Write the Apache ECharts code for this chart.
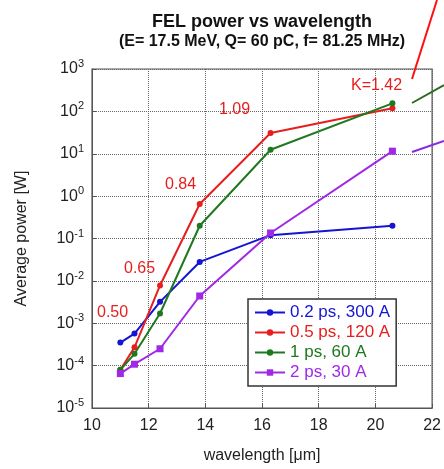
<!DOCTYPE html>
<html>
<head>
<meta charset="utf-8">
<script src="https://cdn.jsdelivr.net/npm/echarts@6/dist/echarts.min.js"></script>
<style>
html,body{margin:0;padding:0;background:#fff;}
#chart{width:444px;height:469px;}
</style>
</head>
<body>
<div id="chart"></div>
<script>
var wavelength = [11.0, 11.5, 12.4, 13.8, 16.3, 20.6];
var p02ps = [3.5e-4, 5.7e-4, 3.2e-3, 0.028, 0.12, 0.2];
var p05ps = [8e-5, 2.7e-4, 7.8e-3, 0.65, 31, 118];
var p1ps = [8e-5, 1.9e-4, 1.7e-3, 0.2, 12.4, 155];
var p2ps = [6.5e-5, 1.08e-4, 2.5e-4, 4.4e-3, 0.135, 11.5];
var seriesNames = ['0.2 ps, 300 A', '0.5 ps, 120 A', '1 ps, 60 A', '2 ps, 30 A'];
var colors = ['#1414d2', '#e61e1e', '#1e781e', '#a028e6'];
var kLabels = ['0.50', '0.65', '0.84', '1.09', 'K=1.42'];

var chart = echarts.init(document.getElementById('chart'));

function pairs(ys){
    var out = [];
    for (var i = 0; i < ys.length; i++) out.push([wavelength[i], ys[i]]);
    return out;
}

function mkSeries(idx, ys, sym){
    return {
        name: seriesNames[idx],
        type: 'line',
        data: pairs(ys),
        symbol: sym,
        symbolSize: sym == 'rect' ? 7 : 6,
        color: colors[idx],
        lineStyle: {width: 2},
        z: 3
    };
}

var font = 'Liberation Sans, Arial, sans-serif';

var option = {
    animation: false,
    textStyle: {fontFamily: font},
    title: {
        text: 'FEL power vs wavelength',
        subtext: '(E= 17.5 MeV, Q= 60 pC, f= 81.25 MHz)',
        left: 257,
        textAlign: 'center',
        top: 8,
        itemGap: 3,
        textStyle: {fontSize: 18, fontWeight: 'bold', color: '#111', fontFamily: font},
        subtextStyle: {fontSize: 16, fontWeight: 'bold', color: '#111', fontFamily: font}
    },
    grid: {
        left: 92, right: 11, top: 69, bottom: 60,
        show: true, borderColor: '#555', borderWidth: 1.2
    },
    legend: {
        orient: 'vertical',
        left: 248, top: 299,
        backgroundColor: '#fff',
        borderColor: '#333', borderWidth: 1.5,
        padding: [5, 6, 5, 6],
        itemWidth: 30, itemHeight: 8,
        itemGap: 3,
        textStyle: {fontSize: 17, fontFamily: font},
        data: seriesNames.map(function(n, i){
            return {name: n, textStyle: {color: colors[i]}};
        })
    },
    xAxis: {
        type: 'value',
        min: 10, max: 22, interval: 2,
        name: 'wavelength [\u03bcm]',
        nameLocation: 'middle',
        nameGap: 40,
        nameTextStyle: {fontSize: 16, color: '#222'},
        axisLine: {show: true, lineStyle: {color: '#555'}},
        axisTick: {inside: true, length: 4, lineStyle: {color: '#555'}},
        axisLabel: {fontSize: 16, color: '#222', margin: 10},
        splitLine: {show: true, lineStyle: {type: 'dotted', color: '#666'}}
    },
    yAxis: {
        type: 'log',
        logBase: 10,
        min: 1e-5, max: 1e3,
        name: 'Average power [W]',
        nameLocation: 'middle',
        nameGap: 62,
        nameTextStyle: {fontSize: 16, color: '#222'},
        axisLine: {show: true, lineStyle: {color: '#555'}},
        axisTick: {inside: true, length: 4, lineStyle: {color: '#555'}},
        minorTick: {show: false},
        axisLabel: {
            margin: 8,
            formatter: function(v){
                return '10{s|' + Math.round(Math.log10(v)) + '}';
            },
            fontSize: 16, color: '#222',
            rich: {s: {fontSize: 11, verticalAlign: 'bottom', padding: [0, 0, 10, 0], color: '#222'}}
        },
        splitLine: {show: true, lineStyle: {type: 'dotted', color: '#666'}}
    },
    graphic: [
        {type: 'text', left: 97, top: 305, style: {text: kLabels[0], fill: '#e61e1e', font: '16px ' + font}, z: 10},
        {type: 'text', left: 124, top: 261, style: {text: kLabels[1], fill: '#e61e1e', font: '16px ' + font}, z: 10},
        {type: 'text', left: 165, top: 177, style: {text: kLabels[2], fill: '#e61e1e', font: '16px ' + font}, z: 10},
        {type: 'text', left: 219, top: 102, style: {text: kLabels[3], fill: '#e61e1e', font: '16px ' + font}, z: 10},
        {type: 'text', left: 351, top: 78, style: {text: kLabels[4], fill: '#e61e1e', font: '16px ' + font}, z: 10},
        {type: 'line', shape: {x1: 412, y1: 79, x2: 437, y2: 0}, style: {stroke: '#ff1010', lineWidth: 2}, z: 10},
        {type: 'line', shape: {x1: 412, y1: 103, x2: 444, y2: 85}, style: {stroke: '#2d6a1e', lineWidth: 2}, z: 10},
        {type: 'line', shape: {x1: 412, y1: 152, x2: 444, y2: 141}, style: {stroke: '#8a2be2', lineWidth: 2}, z: 10}
    ],
    series: [
        mkSeries(0, p02ps, 'circle'),
        mkSeries(1, p05ps, 'circle'),
        mkSeries(2, p1ps, 'circle'),
        mkSeries(3, p2ps, 'rect')
    ]
};

chart.setOption(option);
</script>
</body>
</html>
